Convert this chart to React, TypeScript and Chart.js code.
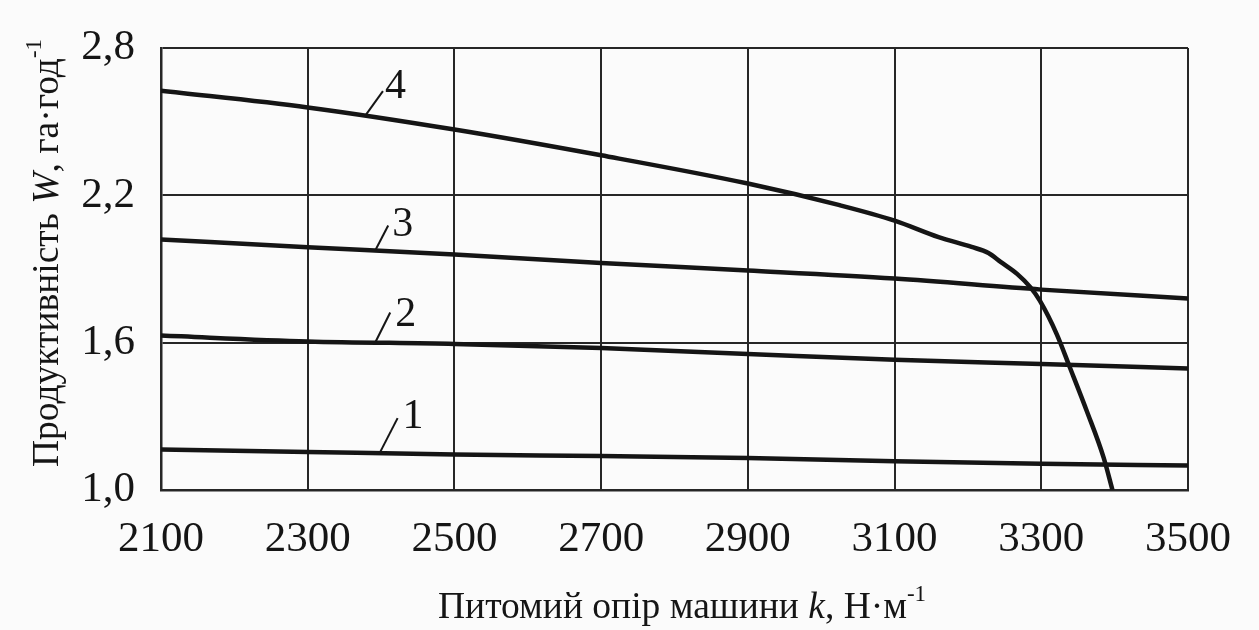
import { useEffect, useRef } from "react";
import { Chart, registerables } from "chart.js";

Chart.register(...registerables);

// ---- data ----
const kTicks = [2100, 2300, 2500, 2700, 2900, 3100, 3300, 3500];
const wTicks = [1.0, 1.6, 2.2, 2.8];

const k1 = [2100, 2300, 2500, 2700, 2900, 3100, 3300, 3500];
const w1 = [1.165, 1.155, 1.145, 1.138, 1.13, 1.117, 1.107, 1.1];

const k2 = [2100, 2300, 2500, 2700, 2900, 3100, 3300, 3500];
const w2 = [1.629, 1.605, 1.595, 1.578, 1.554, 1.53, 1.513, 1.495];

const k3 = [2100, 2300, 2500, 2700, 2900, 3100, 3300, 3500];
const w3 = [2.02, 1.989, 1.959, 1.924, 1.894, 1.861, 1.816, 1.78];

const k4 = [2100, 2300, 2500, 2700, 2900, 3025, 3100, 3160, 3205, 3228, 3245, 3267, 3285, 3298, 3321, 3339, 3362, 3385, 3397];
const w4 = [2.626, 2.558, 2.468, 2.363, 2.248, 2.16, 2.097, 2.03, 1.99, 1.965, 1.928, 1.88, 1.826, 1.771, 1.635, 1.499, 1.322, 1.132, 1.0];

const seriesNames = ["1", "2", "3", "4"];
const seriesK = [k1, k2, k3, k4];
const seriesW = [w1, w2, w3, w4];

// label anchor (k on the curve)
const labelK = [2398, 2392, 2392, 2378];

const xTitle = [
  { t: "Питомий опір машини ", i: false, s: false },
  { t: "k", i: true, s: false },
  { t: ", Н·м", i: false, s: false },
  { t: "-1", i: false, s: true },
];
const yTitle = [
  { t: "Продуктивність ", i: false, s: false },
  { t: "W", i: true, s: false },
  { t: ", га·год", i: false, s: false },
  { t: "-1", i: false, s: true },
];

// ---- styles ----
const FONT = '"Liberation Serif", "Times New Roman", serif';
const INK = "#151515";
const GRID = "#262626";
const BG = "#fbfbfb";
const labelStyle = [
  { lx: 18, ly: -35, tx: 23, ty: -25 },
  { lx: 15, ly: -30, tx: 20, ty: -17 },
  { lx: 13, ly: -25, tx: 17, ty: -15 },
  { lx: 18, ly: -25, tx: 20, ty: -18 },
];

function interp(ks: number[], ws: number[], k: number) {
  for (let i = 0; i < ks.length - 1; i++) {
    if (k >= ks[i] && k <= ks[i + 1]) {
      const t = (k - ks[i]) / (ks[i + 1] - ks[i]);
      return ws[i] + t * (ws[i + 1] - ws[i]);
    }
  }
  return ws[ws.length - 1];
}

function drawRuns(ctx: CanvasRenderingContext2D, runs: any[], x: number, y: number, size: number) {
  let cx = x;
  for (const r of runs) {
    const fs = r.s ? Math.round(size * 0.6) : size;
    ctx.font = `${r.i ? "italic " : ""}${fs}px ${FONT}`;
    ctx.fillText(r.t, cx, y - (r.s ? size * 0.45 : 0));
    cx += ctx.measureText(r.t).width;
  }
}

const decorPlugin = {
  id: "decor",
  beforeDraw(chart: any) {
    const ctx = chart.ctx;
    ctx.save();
    ctx.fillStyle = BG;
    ctx.fillRect(0, 0, chart.width, chart.height);
    ctx.restore();
  },
  afterDatasetsDraw(chart: any) {
    const ctx = chart.ctx;
    const xs = chart.scales.x;
    const ys = chart.scales.y;
    ctx.save();
    ctx.strokeStyle = INK;
    ctx.fillStyle = INK;
    ctx.lineWidth = 2;
    ctx.textBaseline = "alphabetic";
    ctx.textAlign = "left";
    ctx.font = `42px ${FONT}`;
    seriesNames.forEach((name, i) => {
      const k = labelK[i];
      const w = interp(seriesK[i], seriesW[i], k);
      const px = xs.getPixelForValue(k);
      const py = ys.getPixelForValue(w);
      const st = labelStyle[i];
      ctx.beginPath();
      ctx.moveTo(px, py);
      ctx.lineTo(px + st.lx, py + st.ly);
      ctx.stroke();
      ctx.fillText(name, px + st.tx, py + st.ty);
    });
    ctx.restore();
  },
  afterDraw(chart: any) {
    const ctx = chart.ctx;
    ctx.save();
    ctx.fillStyle = INK;
    ctx.textBaseline = "alphabetic";
    ctx.textAlign = "left";
    drawRuns(ctx, xTitle, 438, 618, 37.5);
    ctx.translate(58, 467);
    ctx.rotate(-Math.PI / 2);
    drawRuns(ctx, yTitle, 0, 0, 37.5);
    ctx.restore();
  },
};

export default function App() {
  const ref = useRef<HTMLCanvasElement | null>(null);

  useEffect(() => {
    if (!ref.current) return;
    const datasets = seriesNames.map((name, i) => ({
      label: name,
      data: seriesK[i].map((k, j) => ({ x: k, y: seriesW[i][j] })),
      borderColor: INK,
      borderWidth: 4.5,
      pointRadius: 0,
      fill: false,
      cubicInterpolationMode: "monotone" as const,
      tension: 0.4,
    }));
    const chart = new Chart(ref.current, {
      type: "line",
      data: { datasets },
      plugins: [decorPlugin],
      options: {
        animation: false,
        responsive: false,
        devicePixelRatio: 1,
        layout: { padding: { left: 0, top: 48, right: 71, bottom: 0 } },
        plugins: { legend: { display: false }, tooltip: { enabled: false } },
        scales: {
          x: {
            type: "linear",
            min: kTicks[0],
            max: kTicks[kTicks.length - 1],
            afterBuildTicks: (s: any) => {
              s.ticks = kTicks.map((v) => ({ value: v }));
            },
            afterFit: (s: any) => {
              s.height = 140;
            },
            ticks: {
              font: { family: FONT, size: 43 },
              color: INK,
              padding: 24,
              maxRotation: 0,
              callback: (v: any) => String(v),
            },
            grid: { color: GRID, lineWidth: 2, drawTicks: false },
            border: { color: GRID, width: 2.5 },
          },
          y: {
            type: "linear",
            min: wTicks[0],
            max: wTicks[wTicks.length - 1],
            afterBuildTicks: (s: any) => {
              s.ticks = wTicks.map((v) => ({ value: v }));
            },
            afterFit: (s: any) => {
              s.width = 161;
            },
            ticks: {
              font: { family: FONT, size: 43, lineHeight: 1.0 },
              color: INK,
              padding: 26,
              callback: (v: any) => Number(v).toFixed(1).replace(".", ","),
            },
            grid: { color: GRID, lineWidth: 2, drawTicks: false },
            border: { color: GRID, width: 2.5 },
          },
        },
      },
    });
    return () => chart.destroy();
  }, []);

  return (
    <div style={{ position: "absolute", left: 0, top: 0, width: 1259, height: 630, background: BG }}>
      <canvas ref={ref} width={1259} height={630} style={{ display: "block" }} />
    </div>
  );
}
